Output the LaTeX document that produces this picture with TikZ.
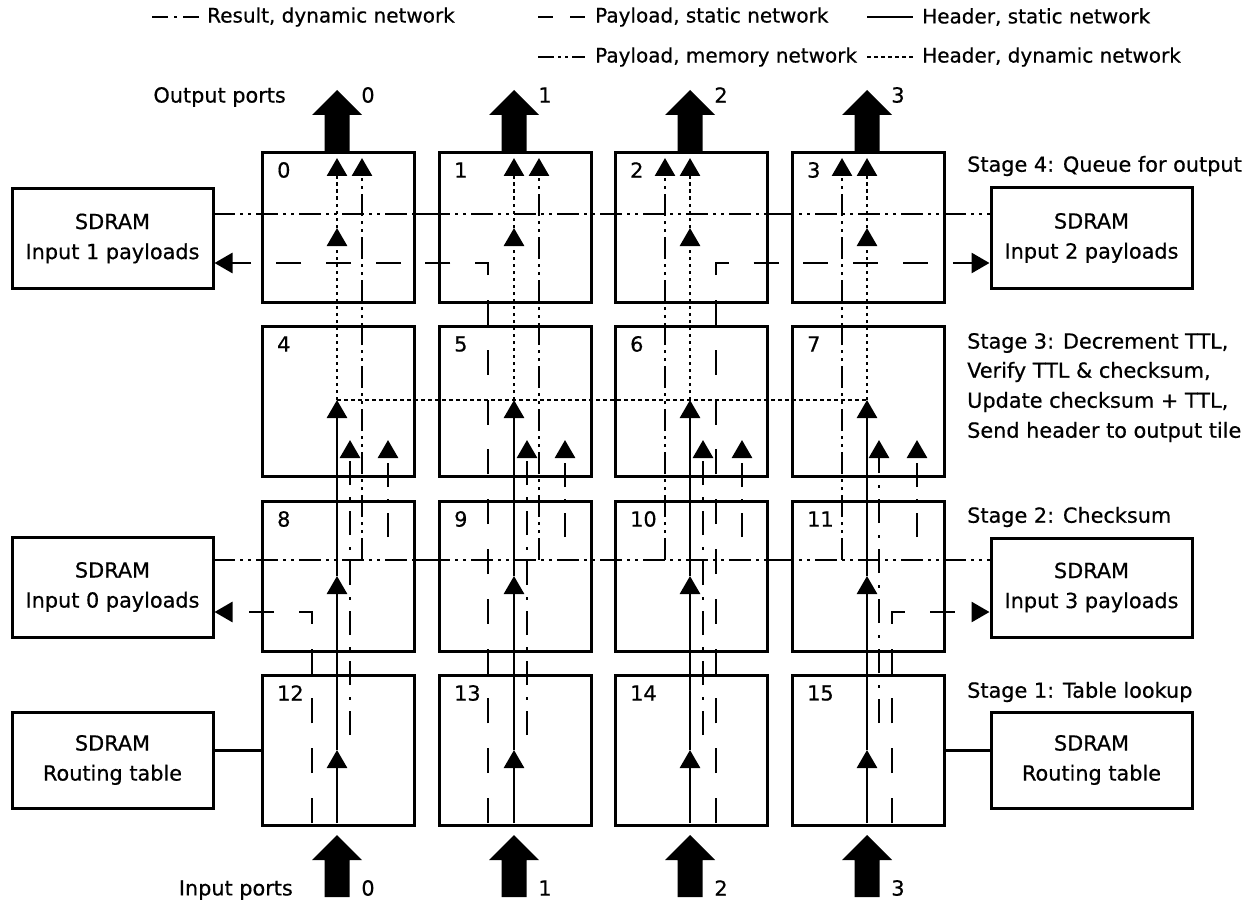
\documentclass[tikz,border=0pt]{standalone}
\usepackage{fontspec}
\setmainfont{DejaVu Sans}
\newfontfamily\lblfont{DejaVu Sans}[FakeBold=0.6]
\usetikzlibrary{arrows.meta}
\begin{document}
\begin{tikzpicture}[x=1pt,y=-1pt,
  >={Triangle[length=18pt,width=20pt]},
  txt/.style={font=\lblfont\fontsize{20.8}{30}\selectfont, inner sep=0pt},
  key/.style={font=\lblfont\fontsize{20}{24}\selectfont, inner sep=0pt, anchor=west},
  tile/.style={draw, line width=3pt, minimum width=152pt, minimum height=150pt, anchor=north west, inner sep=0pt},
  sdram/.style={draw, line width=3pt, minimum width=201pt, align=center, txt},
  wire/.style={line width=2.8pt},
  hdr/.style={wire},
  dyn/.style={wire, dash pattern=on 3.5pt off 3.5pt},
  res/.style={wire, dash pattern=on 24pt off 11.5pt on 3pt off 11.5pt},
  mem/.style={wire, dash pattern=on 22pt off 5pt on 3pt off 5pt on 3pt off 5pt},
  pay/.style={wire, dash pattern=on 25pt off 24.8pt},
]
\useasboundingbox (0,0) rectangle (1244,904);

% ---- legend ----
\coordinate (lgAa) at (152,17); \coordinate (lgAb) at (199,17);
\draw[wire, dash pattern=on 16pt off 6pt on 3pt off 6pt on 17pt off 40pt] (lgAa) -- (lgAb);
\node[key] (lgA) at (207,17) {Result, dynamic network};
\coordinate (lgBa) at (538,17); \coordinate (lgBb) at (585,17);
\draw[wire, dash pattern=on 15pt off 17pt on 15pt off 40pt] (lgBa) -- (lgBb);
\node[key] (lgB) at (595,17) {Payload, static network};
\coordinate (lgCa) at (867,17); \coordinate (lgCb) at (913,17);
\draw[wire] (lgCa) -- (lgCb);
\node[key] (lgC) at (922,17) {Header, static network};
\coordinate (lgDa) at (538,57); \coordinate (lgDb) at (585,57);
\draw[wire, dash pattern=on 16pt off 4pt on 3pt off 4pt on 3pt off 4pt on 16pt off 40pt] (lgDa) -- (lgDb);
\node[key] (lgD) at (595,57) {Payload, memory network};
\coordinate (lgEa) at (867,57); \coordinate (lgEb) at (913,57);
\draw[dyn] (lgEa) -- (lgEb);
\node[key] (lgE) at (922,57) {Header, dynamic network};

% ---- tiles ----
\foreach \c/\L in {0/261,1/438,2/614,3/791}{
  \foreach \r/\T in {0/151,1/325,2/500,3/674}{
    \pgfmathtruncatemacro\n{4*\r+\c}
    \node[tile] (t\n) at (\L,\T) {};
    \node[txt, anchor=west] (n\n) at (\L+16,\T+19) {\n};
  }
}

% ---- SDRAM banks ----
\node[sdram, minimum height=99pt]  (sdA) at (112.5,238.5) {SDRAM\\Input 1 payloads};
\node[sdram, minimum height=100pt] (sdB) at (112.5,587)   {SDRAM\\Input 0 payloads};
\node[sdram, minimum height=96pt]  (sdC) at (112.5,760)   {SDRAM\\Routing table};
\node[sdram, minimum height=100pt] (sdD) at (1091.5,238)  {SDRAM\\Input 2 payloads};
\node[sdram, minimum height=99pt]  (sdE) at (1091.5,587.5){SDRAM\\Input 3 payloads};
\node[sdram, minimum height=96pt]  (sdF) at (1091.5,760)  {SDRAM\\Routing table};

% ---- stage labels ----
\node[txt, anchor=west] (st4) at (967,166) {Stage 4: Queue for output};
\node[txt, anchor=west] (st3a) at (967,343) {Stage 3: Decrement TTL,};
\node[txt, anchor=west] (st3b) at (967,372) {Verify TTL \& checksum,};
\node[txt, anchor=west] (st3c) at (967,402) {Update checksum + TTL,};
\node[txt, anchor=west] (st3d) at (967,432) {Send header to output tile};
\node[txt, anchor=west] (st2) at (967,517) {Stage 2: Checksum};
\node[txt, anchor=west] (st1) at (967,692) {Stage 1: Table lookup};
\node[txt, anchor=east] (outp) at (286,97) {Output ports};
\node[txt, anchor=east] (inp) at (293,890) {Input ports};

% ---- memory network rows ----
\coordinate (mA) at (213,214); \coordinate (mD) at (991,214);
\coordinate (mB) at (213,560); \coordinate (mE) at (991,560);
\draw[mem] (mA) -- (mD);
\draw[mem] (mB) -- (mE);
\draw[wire] (t0.east |- mA) -- (t1.west |- mA);
\draw[wire] (t2.east |- mA) -- (t3.west |- mA);
\draw[wire] (t8.east |- mB) -- (t9.west |- mB);
\draw[wire] (t10.east |- mB) -- (t11.west |- mB);

% ---- routing table links ----
\draw[wire] (sdC.east |- t12.west) -- (t12.west);
\draw[wire] (t15.east) -- (t15.east -| sdF.west);

% ---- per-column flows ----
\foreach \c/\L/\xs/\xm/\xa/\xb/\ya in {0/261/312/362/350/388/735, 1/438/488/539/527/565/735, 2/614/716/665/703/742/735, 3/791/892/842/879/917/723}{
  \coordinate (hb\c) at (\L+76,823);
  \coordinate (hA\c) at (\L+76,750);
  \coordinate (hB\c) at (\L+76,576);
  \coordinate (hC\c) at (\L+76,400);
  \coordinate (dA\c) at (\L+76,228);
  \coordinate (dB\c) at (\L+76,158);
  \draw[hdr,->] (hb\c) -- (hA\c);
  \draw[hdr,->] (hA\c) -- (hB\c);
  \draw[hdr,->] (hB\c) -- (hC\c);
  \draw[dyn,->] (hC\c) -- (dA\c);
  \draw[dyn,->] (dA\c) -- (dB\c);
  \coordinate (ra\c) at (\xa,\ya); \coordinate (rA\c) at (\xa,440);
  \draw[res,->] (ra\c) -- (rA\c);
  \coordinate (rb\c) at (\xb,537); \coordinate (rB\c) at (\xb,440);
  \draw[res,->] (rb\c) -- (rB\c);
  \coordinate (mv\c) at (\xm,560); \coordinate (mV\c) at (\xm,158);
  \draw[mem,->] (mv\c) -- (mV\c);
  \coordinate (sp\c) at (\xs,823);
  % port arrows
  \fill (\L+63.5,151) -- (\L+63.5,115) -- (\L+51,115) -- (\L+76,90) -- (\L+101,115) -- (\L+88.5,115) -- (\L+88.5,151) -- cycle;
  \fill (\L+63.5,897) -- (\L+63.5,860) -- (\L+51,860) -- (\L+76,835) -- (\L+101,860) -- (\L+88.5,860) -- (\L+88.5,897) -- cycle;
  \node[txt] (po\c) at (\L+107,95) {\c};
  \node[txt] (pi\c) at (\L+107,888) {\c};
}
\draw[dyn] (hC0) -- (hC3);

% ---- payloads over the static network ----
\coordinate (spt0) at (312,612);
\coordinate (spt1) at (488,263);
\coordinate (spt2) at (716,263);
\coordinate (spt3) at (892,612);
\draw[pay,->] (sp0) -- (spt0) -- (spt0 -| sdB.east);
\draw[pay,->] (sp1) -- (spt1) -- (spt1 -| sdA.east);
\draw[pay,->] (sp2) -- (spt2) -- (spt2 -| sdD.west);
\draw[pay,->] (sp3) -- (spt3) -- (spt3 -| sdE.west);
\end{tikzpicture}
\end{document}
